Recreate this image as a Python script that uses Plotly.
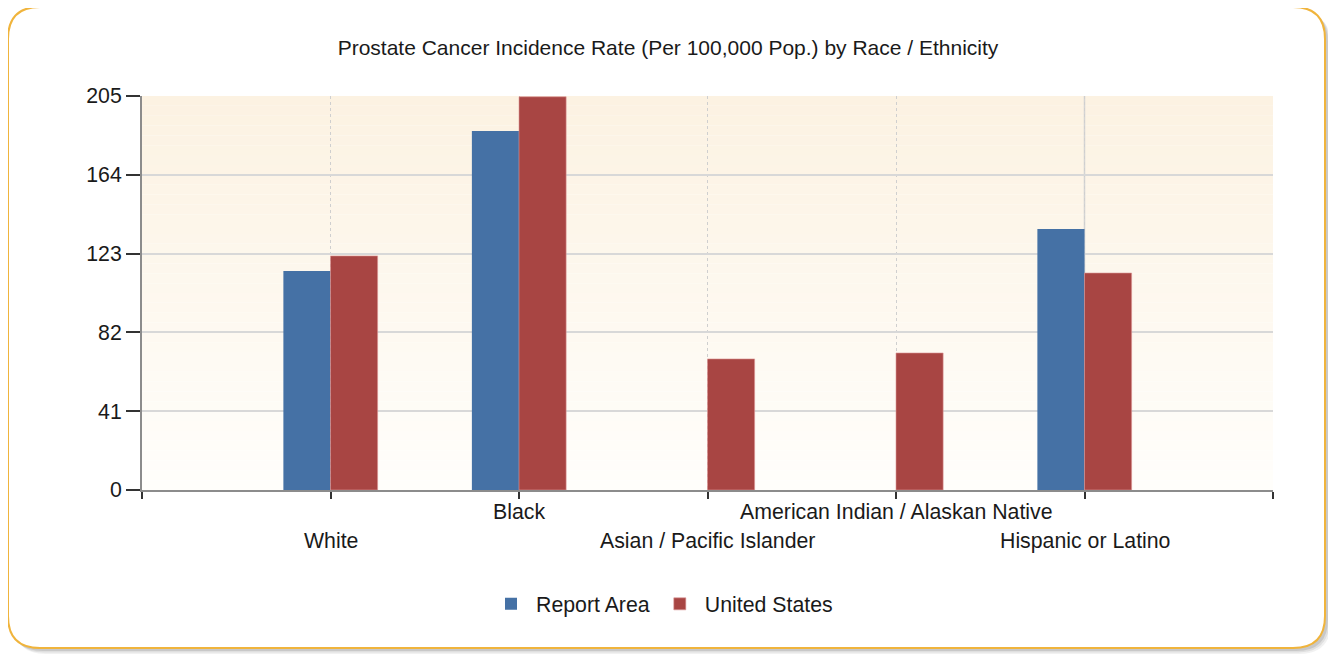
import plotly.graph_objects as go

# Chart data
categories = ["White", "Black", "Asian / Pacific Islander",
              "American Indian / Alaskan Native", "Hispanic or Latino"]
report_area = [113.9, 186.8, None, None, 135.8]
united_states = [121.8, 204.6, 68.2, 71.3, 112.9]
y_ticks = [0, 41, 82, 123, 164, 205]

# the page body has an 8px margin, so the figure is drawn 8px in from the corner
OFF = 8
W, H = 1336 - OFF, 654 - OFF
L, T = 142 - OFF, 96 - OFF
R, B = W - (1273 - OFF), H - (490 - OFF)
PW, PH = W - L - R, H - T - B


def px_x(px):
    return (px - OFF - L) / PW


def px_y(py):
    return (H - B - (py - OFF)) / PH


FONT = "Liberation Sans"
TXT = "#1a1a1a"
x_idx = list(range(len(categories)))

fig = go.Figure()
fig.add_trace(go.Bar(x=x_idx, y=report_area, name="Report Area",
                     marker=dict(color="#4571a5", line=dict(width=0))))
fig.add_trace(go.Bar(x=x_idx, y=united_states, name="United States",
                     marker=dict(color="#a84543",
                                 line=dict(width=1, color="rgba(220,150,150,0.6)"))))

shapes = []


# frame shadow + rounded orange border
def rounded(x0, y0, x1, y1, r):
    rx, ry = r / PW, r / PH
    a, b, c, d = px_x(x0), px_y(y0), px_x(x1), px_y(y1)
    return (f"M{a + rx},{b} L{c - rx},{b} Q{c},{b} {c},{b - ry} "
            f"L{c},{d + ry} Q{c},{d} {c - rx},{d} L{a + rx},{d} "
            f"Q{a},{d} {a},{d + ry} L{a},{b - ry} Q{a},{b} {a + rx},{b} Z")


for off, op in [(6, 0.10), (4.5, 0.15), (3, 0.22)]:
    shapes.append(dict(type="path", xref="paper", yref="paper", layer="below",
                       path=rounded(8 + off, 7 + off, 1325 + off, 648 + off, 32),
                       fillcolor=f"rgba(120,120,120,{op})", line=dict(width=0)))
shapes.append(dict(type="path", xref="paper", yref="paper", layer="below",
                   path=rounded(8, 7, 1325, 648, 32),
                   fillcolor="white", line=dict(color="#f0b43c", width=2)))

# vertical gradient in the plot area
top_c, bot_c = (252, 242, 226), (255, 254, 251)
n = 40
for i in range(n):
    t = i / (n - 1)
    col = tuple(round(top_c[k] + (bot_c[k] - top_c[k]) * t) for k in range(3))
    shapes.append(dict(type="rect", xref="paper", yref="paper", layer="below",
                       x0=0, x1=1, y0=1 - (i + 1) / n, y1=1 - i / n,
                       fillcolor="rgb(%d,%d,%d)" % col, line=dict(width=0)))

# the one solid vertical grid line
shapes.append(dict(type="line", xref="x", yref="paper", layer="below",
                   x0=4, x1=4, y0=0, y1=1, line=dict(color="#d4d4d4", width=1.5)))

annotations = []
for i, cat in enumerate(categories):
    annotations.append(dict(x=i, y=px_y(512 if i % 2 else 541), xref="x", yref="paper",
                            text=cat, showarrow=False, yanchor="middle",
                            font=dict(family=FONT, size=21.3, color=TXT)))

fig.update_layout(
    width=W, height=H, autosize=False,
    margin=dict(l=L, r=R, t=T, b=B, autoexpand=False),
    paper_bgcolor="white",
    plot_bgcolor="rgba(0,0,0,0)",
    barmode="group", bargap=0.5, bargroupgap=0,
    title=dict(text="Prostate Cancer Incidence Rate (Per 100,000 Pop.) by Race / Ethnicity",
               x=px_x(668), xref="paper", xanchor="center",
               y=1 - (48 - OFF) / H, yref="container", yanchor="middle",
               font=dict(family=FONT, size=21, color=TXT)),
    xaxis=dict(range=[-1, 5], tickmode="array", tickvals=list(range(-1, 6)),
               showticklabels=False, ticks="outside", ticklen=7, tickwidth=2,
               tickcolor="#333", showgrid=True, gridcolor="#cfcfcf", griddash="dot",
               gridwidth=1, showline=True, linecolor="#8c8c8c", linewidth=2,
               zeroline=False, fixedrange=True, automargin=False),
    yaxis=dict(range=[0, 205], tickmode="array", tickvals=y_ticks,
               ticks="outside", ticklen=14, tickwidth=2, tickcolor="#333",
               tickfont=dict(family=FONT, size=21.3, color=TXT),
               showgrid=True, gridcolor="#d8d8d8", gridwidth=2,
               showline=True, linecolor="#8c8c8c", linewidth=2,
               zeroline=False, fixedrange=True, automargin=False),
    legend=dict(orientation="h", x=px_x(662), xanchor="center",
                y=px_y(604), yanchor="middle",
                font=dict(family=FONT, size=21.3, color=TXT),
                bgcolor="rgba(0,0,0,0)", itemwidth=40),
    shapes=shapes,
    annotations=annotations,
    showlegend=True,
)

fig.write_html("out.html")
